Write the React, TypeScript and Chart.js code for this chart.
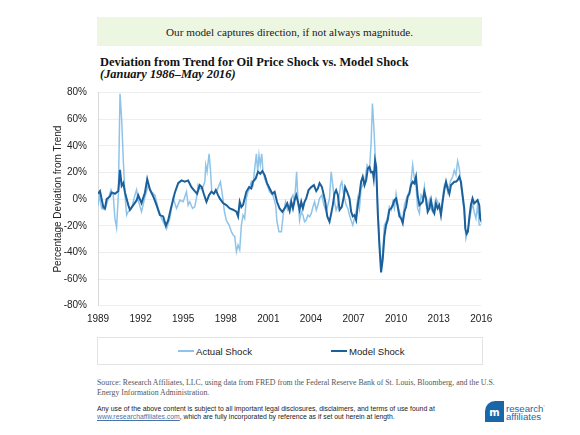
import React, { useEffect, useRef } from "react";
import Chart from "chart.js/auto";

// months since January 1989 (x) and deviation from trend in % (y)
const modelMonth = [0,1.7,4.5,5.9,7.3,10.1,11.5,14.3,17.2,18.6,20,21.4,22.8,25.6,27,29.8,32.6,34,36.8,39.7,41.6,43.9,46.7,49.5,52.3,55.1,57.4,59.3,61.6,65,67.8,70.6,73.4,76.2,79,81.8,83.8,86,87.7,89.4,91.7,93.9,95.9,97.9,99.6,101.5,102.9,105.7,108.5,111.4,114.2,117,118.4,119.8,121.2,122.6,125.4,127.7,129.6,131,133.3,135.3,137.2,138.9,140.9,142.9,145.1,147.4,149.3,151.3,153.5,155.8,157.8,160,162,163.4,164.8,166.2,167.6,169,170.4,171.8,173.2,174.6,176,178,180.3,182.5,184.5,185.9,187.3,189.3,190.9,192.1,193.8,195.7,197.1,198.5,199.9,201.3,202.8,204.2,206.1,207.8,208.9,210.6,212.6,214,215.4,216.8,218.2,219.6,221,222.4,223.8,225.3,226.7,228.1,229.5,230.9,232.3,233.1,234.2,235.2,236.5,237.9,239.3,240.7,242.1,243.5,244.9,246.3,247.8,249.2,250.6,252,253.4,254.8,256.2,257.6,259,260.4,261.8,263.2,264.6,266,267.4,268.8,270.2,271.7,273.1,274.5,275.9,277.3,278.7,280.1,281.5,282.9,284.3,285.7,287.1,288.5,289.9,291.3,292.7,294.2,295.6,297,298.4,299.8,301.2,302.6,304,305.4,306.8,308.2,309.6,310.5,311.6,312.7,313.8,315.2,316.6,318,319.5,320.9,322.3,323.1,323.7];
const modelValue = [4,6,-6,-7,0,2,5,4,6,22,10,12,5,-4.5,-8,-4.5,-1,3,-3,5,15,7,2,-4.5,-12,-13,-20,-16,-7,5,12,14,13,14,9,6,4,10.5,9,4,-2,3,5.5,4,6.75,3,0.5,-3,-4.5,-7,-8,-9.5,-13,-2,-6,-4.5,5.5,9,8,13,15.5,20.5,19,21,18,12,8,4,5.5,-2,-7,-9.5,-7,-3.25,-9,-2,-7,-0.75,3,-2,-8,-2,-7,-2,0.5,6.75,9,10.5,6,8,12,9,3,-2,-13,-17,-11,-4.5,4,6.75,3,-8,-5.75,1.75,9,5.5,0.5,-9.5,-13,-12,-15.75,-4.5,3,13,16.75,10.5,14.25,23,24.25,20,20.5,15.5,29,24,-10,-35,-55,-45,-28,-19.5,-15.75,-8,-7,-4.5,-0.75,0.5,-5.75,-13,-14.5,-18,-9.5,-5.75,1.75,4,10.5,13,11.75,16.75,3,-4.5,-3.25,-2,5.5,0.5,-9.5,-7,-0.75,-8,-10.75,-3.25,-7,-4.5,-12,-2,6.75,13,8,4,10.5,11.75,13,13,14.25,16.75,13,3,-7,-22,-26,-24.5,-14.5,-4.5,0.5,-3.25,-2,-0.75,-4.5,-14.5,-15.75];

const actualMonth = [0,1.2,3.1,5.9,8.7,11,12.9,14.3,15.7,17.2,18.6,20,21.4,22.8,24.2,25.6,28.4,31.2,32.6,34,36.8,39.7,42.5,45.3,48.1,50.9,53.7,56.5,57.9,60.7,63.6,66.4,69.2,72,74.8,76.2,77.6,79.9,81.8,83.2,84.6,86,88.3,90.3,91.1,92.2,93.9,95,96.2,97.9,100.1,102.4,103.5,105.2,106.9,108.5,110.8,112.8,114.2,115.6,117,118.4,119.8,121.2,122.6,124,125.4,126.8,128.2,129.6,131,132.5,133.9,135,136.1,137.2,138.4,139.5,140.9,142.9,145.1,147.9,150.2,151.3,153,155,156.9,158.6,160.2,162,163.4,164.8,166.2,167.9,169,170.4,171.8,173.2,174.6,176,177.4,178.9,180.3,181.7,183.1,184.5,185.9,187.3,189.3,190.9,192.9,195.7,197.1,198.5,199.9,201.3,202.8,205,206.1,207.8,209.8,211.2,212.6,214,215.4,216.8,218.2,219.6,221,222.4,223.8,225.8,227.5,229.5,230.9,232,233.1,234.2,235.4,236.5,237.9,239.3,240.7,242.1,243.5,244.9,246.3,247.8,249.2,250.6,252,253.4,254.8,256.2,257.6,259,260.4,261.8,263.2,264.6,266,267.4,268.8,270.2,271.7,273.1,274.5,275.9,277.3,278.7,280.1,281.5,282.9,284.3,285.7,287.1,288.5,289.9,291.3,292.7,294.2,295.6,297,298.4,299.8,301.2,302.6,304,305.4,306.8,308.2,309.6,311,312.4,313.8,315.2,316.6,318,319.5,320.9,322.3,323.7];
const actualValue = [-5,3,-7,-8,0.5,7,3,-14.5,-21.5,3,79,60,29,3,-12,-9.5,-7,3,7,-0.75,-9.5,1.75,10.5,5.5,3,-7,-14.5,-19.5,-22.5,-14.5,0.5,-7,-0.75,-2,5.5,-4.5,-2,-7,-5.75,0.5,10.5,8,8,13,25.5,20.5,34,23,5.5,4,5.5,10.5,13,3,-9.5,-16,-19.5,-24.5,-27,-28,-39.5,-34.5,-38,-19.5,-12,-14.5,0.5,5.5,8,13,10.5,23,34,20.5,33,25.5,34,20.5,15.5,10.5,5.5,3,-4.5,-17,-24.5,-24.5,-9.5,-2,-8,-4.5,0.5,3,-2,20.5,0.5,-16,-9.5,-12,-17,-15.75,-12,-13.25,-10.75,-5.75,-2,-8.25,-4.5,0.5,3,-4.5,-9.5,0.5,20.5,10.5,-2,-8.25,-4.5,10.5,13,3,-4.5,-7,-12,-16,-19.5,-14.5,-9.5,0.5,-7,8,10.5,15.5,25.5,21.75,43,71.75,55.5,35.5,15.5,-7,-32,-50,-40,-19.5,-17,-13.25,-5.75,-8.25,-2,-7,4,-4.5,-9.5,-13.25,-15.75,-4.5,-0.75,3,5.5,13,25.5,15.5,10.5,-7,-10.75,3,0.5,9.25,-4.5,-7,-0.75,-7,-9.5,-4.5,0.5,-2,-7,-9.5,0.5,10.5,13,5.5,10.5,14.25,16.75,21.75,18,28.5,23,10.5,0.5,-9.5,-29.5,-24.5,-17,-9.5,-3.25,-9.5,-14.5,-4.5,-19.5,-19.5];

const startYear = 1989;
const yearTickStepMonths = 36;
const yTickStep = 20;

const series = [
  { label: "Model Shock", months: modelMonth, values: modelValue, color: "#1b5f9b", width: 2 },
  { label: "Actual Shock", months: actualMonth, values: actualValue, color: "#8fc4ea", width: 1.5 },
];
const legendOrder = ["Actual Shock", "Model Shock"];

export default function App() {
  const canvasRef = useRef<HTMLCanvasElement | null>(null);

  useEffect(() => {
    const ctx = canvasRef.current;
    if (!ctx) return;
    const chart = new Chart(ctx, {
      type: "line",
      data: {
        datasets: series.map((s) => ({
          label: s.label,
          data: s.months.map((m, i) => ({ x: m, y: s.values[i] })),
          borderColor: s.color,
          backgroundColor: s.color,
          borderWidth: s.width,
          pointRadius: 0,
          tension: 0,
          fill: false,
        })),
      },
      options: {
        animation: false,
        responsive: false,
        maintainAspectRatio: false,
        layout: { padding: { left: 0, right: 18, top: 12.5, bottom: 0 } },
        plugins: { legend: { display: false }, tooltip: { enabled: false } },
        scales: {
          x: {
            type: "linear",
            min: 0,
            max: 324,
            afterFit: (s: any) => { s.height = 24.3; },
            grid: { display: false, drawTicks: false },
            border: { display: false },
            ticks: {
              stepSize: yearTickStepMonths,
              padding: 7.6,
              color: "#222",
              font: { family: "'Liberation Sans', Arial, sans-serif", size: 10 },
              callback: (v: any) => String(startYear + Math.round(Number(v) / 12)),
              maxRotation: 0,
              autoSkip: false,
            },
          },
          y: {
            min: -80,
            max: 80,
            afterFit: (s: any) => { s.width = 98; },
            grid: { color: "#eeeeee", drawTicks: true, tickLength: 8, tickColor: "rgba(0,0,0,0)", lineWidth: 1 },
            border: { display: true, color: "#d9d9d9" },
            ticks: {
              stepSize: yTickStep,
              padding: 3,
              color: "#222",
              font: { family: "'Liberation Sans', Arial, sans-serif", size: 10 },
              callback: (v: any) => `${v}%`,
            },
            title: {
              display: true,
              text: "Percentage Deviation from Trend",
              color: "#222",
              padding: { top: 52, bottom: 0 },
              font: { family: "'Liberation Sans', Arial, sans-serif", size: 10 },
            },
          },
        },
      },
    });
    return () => chart.destroy();
  }, []);

  const legendItems = legendOrder.map((l) => series.find((s) => s.label === l)!);

  return (
    <div style={{ position: "fixed", left: 0, top: 0, width: 580, height: 435, background: "#fff", overflow: "hidden" }}>
      <div style={{ position: "absolute", left: 97, top: 17, width: 385, height: 29, background: "#edf6e1", textAlign: "center", fontFamily: "'Liberation Serif', serif", fontSize: 11.2, lineHeight: "31px", color: "#1a1a1a" }}>
        Our model captures direction, if not always magnitude.
      </div>
      <div style={{ position: "absolute", left: 100, top: 57, fontFamily: "'Liberation Serif', serif", fontSize: 12.4, lineHeight: "11.5px", fontWeight: "bold", color: "#111", whiteSpace: "nowrap" }}>
        <div>Deviation from Trend for Oil Price Shock vs. Model Shock</div>
        <div style={{ fontStyle: "italic" }}>(January 1986–May 2016)</div>
      </div>
      <div style={{ position: "absolute", left: 0, top: 80, width: 500, height: 250 }}>
        <canvas ref={canvasRef} width={500} height={250} style={{ width: 500, height: 250 }} />
      </div>
      <div style={{ position: "absolute", left: 97, top: 337, width: 384, height: 26, border: "1px solid #e3e3e3" }}>
        {legendItems.map((s, i) => (
          <div key={s.label} style={{ position: "absolute", left: i === 0 ? 80 : 233, top: 0, height: 26, display: "flex", alignItems: "center", fontFamily: "'Liberation Sans', Arial, sans-serif", fontSize: 9.6, color: "#222", whiteSpace: "nowrap" }}>
            <span style={{ display: "inline-block", width: 16, height: s.width, background: s.color, marginRight: 2 }} />
            {s.label}
          </div>
        ))}
      </div>
      <div style={{ position: "absolute", left: 97, top: 378, fontFamily: "'Liberation Serif', serif", fontSize: 7.8, lineHeight: "10px", color: "#555", whiteSpace: "nowrap" }}>
        <div>Source: Research Affiliates, LLC, using data from FRED from the Federal Reserve Bank of St. Louis, Bloomberg, and the U.S.</div>
        <div>Energy Information Administration.</div>
      </div>
      <div style={{ position: "absolute", left: 97, top: 405, fontFamily: "'Liberation Sans', Arial, sans-serif", fontSize: 6.85, lineHeight: "7.5px", color: "#222", whiteSpace: "nowrap" }}>
        <div>Any use of the above content is subject to all important legal disclosures, disclaimers, and terms of use found at</div>
        <div><span style={{ color: "#4a74a8", textDecoration: "underline" }}>www.researchaffiliates.com</span>, which are fully incorporated by reference as if set out herein at length.</div>
      </div>
      <div style={{ position: "absolute", left: 485, top: 401, width: 19, height: 21, background: "#1a67a8", borderRadius: "10px 0 0 0", color: "#fff", fontFamily: "'DejaVu Sans', sans-serif", fontWeight: "bold", fontSize: 10, lineHeight: "24px", textAlign: "center" }}>
        m
      </div>
      <div style={{ position: "absolute", left: 506, top: 403, fontFamily: "'Liberation Sans', Arial, sans-serif", fontSize: 9.6, lineHeight: "8px", color: "#1a67a8", whiteSpace: "nowrap" }}>
        <div>research<sup style={{ fontSize: 4 }}>°</sup></div>
        <div>affiliates</div>
      </div>
    </div>
  );
}
